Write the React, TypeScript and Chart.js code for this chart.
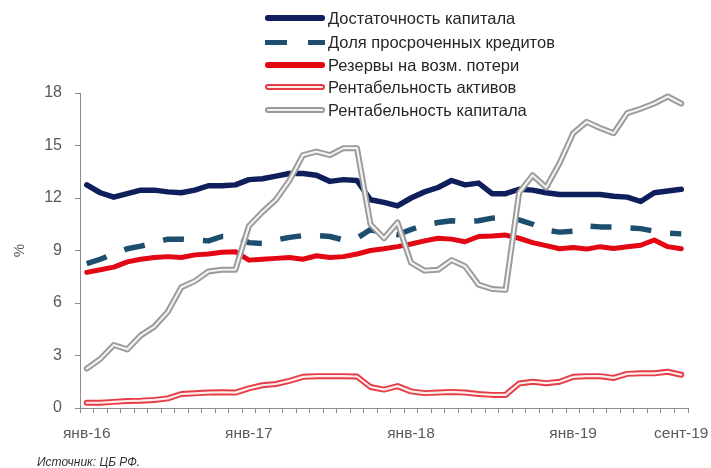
import React, { useEffect, useRef } from 'react';
import { Chart, registerables } from 'chart.js';

Chart.register(...registerables);

const categories = [
  'янв-16', 'февр-16', 'март-16', 'апр-16', 'май-16', 'июнь-16', 'июль-16', 'авг-16', 'сент-16', 'окт-16', 'нояб-16', 'дек-16',
  'янв-17', 'февр-17', 'март-17', 'апр-17', 'май-17', 'июнь-17', 'июль-17', 'авг-17', 'сент-17', 'окт-17', 'нояб-17', 'дек-17',
  'янв-18', 'февр-18', 'март-18', 'апр-18', 'май-18', 'июнь-18', 'июль-18', 'авг-18', 'сент-18', 'окт-18', 'нояб-18', 'дек-18',
  'янв-19', 'февр-19', 'март-19', 'апр-19', 'май-19', 'июнь-19', 'июль-19', 'авг-19', 'сент-19',
];

const shownTicks = ['янв-16', 'янв-17', 'янв-18', 'янв-19', 'сент-19'];

// Достаточность капитала
const capitalAdequacy = [
  12.75, 12.3, 12.05, 12.25, 12.45, 12.45, 12.35, 12.3, 12.45, 12.7,
  12.7, 12.75, 13.05, 13.1, 13.25, 13.4, 13.4, 13.3, 12.95, 13.05,
  13.0, 11.9, 11.75, 11.55, 12.0, 12.35, 12.6, 13.0, 12.75, 12.85,
  12.25, 12.25, 12.5, 12.45, 12.3, 12.2, 12.2, 12.2, 12.2, 12.1,
  12.05, 11.8, 12.3, 12.4, 12.5,
];

// Доля просроченных кредитов
const overdueShare = [
  8.25, 8.5, 8.8, 9.1, 9.25, 9.45, 9.65, 9.65, 9.6, 9.55,
  9.8, 9.8, 9.45, 9.4, 9.6, 9.75, 9.85, 9.85, 9.8, 9.6,
  9.7, 10.2, 10.0, 9.9, 10.2, 10.45, 10.6, 10.7, 10.65, 10.7,
  10.85, 10.9, 10.75, 10.5, 10.15, 10.05, 10.1, 10.4, 10.35, 10.35,
  10.3, 10.25, 10.1, 10.0, 9.95,
];

// Резервы на возм. потери
const lossReserves = [
  7.75, 7.9, 8.05, 8.35, 8.5, 8.6, 8.65, 8.6, 8.75, 8.8,
  8.9, 8.93, 8.45, 8.5, 8.55, 8.6, 8.5, 8.7, 8.6, 8.65,
  8.8, 9.0, 9.1, 9.22, 9.37, 9.55, 9.7, 9.65, 9.5, 9.8,
  9.83, 9.88, 9.7, 9.45, 9.28, 9.1, 9.17, 9.08, 9.22, 9.12,
  9.22, 9.3, 9.6, 9.22, 9.1,
];

// Рентабельность активов
const returnOnAssets = [
  0.3, 0.3, 0.35, 0.4, 0.42, 0.46, 0.55, 0.8, 0.84, 0.88,
  0.9, 0.88, 1.12, 1.3, 1.37, 1.55, 1.78, 1.82, 1.82, 1.82,
  1.8, 1.2, 1.05, 1.25, 0.95, 0.85, 0.88, 0.92, 0.88, 0.8,
  0.75, 0.75, 1.4, 1.5, 1.42, 1.5, 1.78, 1.82, 1.82, 1.72,
  1.95, 1.98, 1.98, 2.07, 1.9,
];

// Рентабельность капитала
const returnOnEquity = [
  2.25, 2.8, 3.6, 3.35, 4.15, 4.65, 5.5, 6.9, 7.25, 7.8,
  7.9, 7.9, 10.4, 11.2, 11.9, 13.0, 14.45, 14.65, 14.45, 14.85,
  14.85, 10.5, 9.7, 10.6, 8.3, 7.85, 7.9, 8.45, 8.1, 7.05,
  6.8, 6.75, 12.3, 13.3, 12.6, 14.0, 15.7, 16.35, 16.0, 15.7,
  16.85, 17.1, 17.4, 17.8, 17.4,
];

const seriesNames = [
  'Достаточность капитала',
  'Доля просроченных кредитов',
  'Резервы на возм. потери',
  'Рентабельность активов',
  'Рентабельность капитала',
];

const NAVY = '#0f1f5c';
const TEAL = '#1d4e6e';
const RED = '#e30613';
const PINK_OUT = '#e63c45';
const PINK_IN = '#fdeeee';
const GRAY_OUT = '#9a9a9a';
const GRAY_IN = '#f2f2f2';
const AXIS = '#8c8c8c';
const TICK_TEXT = '#595959';
const FONT = '"Liberation Sans", Arial, sans-serif';

export default function App() {
  const ref = useRef<HTMLCanvasElement | null>(null);

  useEffect(() => {
    if (!ref.current) return;
    const base = {
      pointRadius: 0,
      pointHoverRadius: 0,
      tension: 0,
      fill: false,
      borderJoinStyle: 'round' as const,
      borderCapStyle: 'round' as const,
    };
    const chart = new Chart(ref.current, {
      type: 'line',
      data: {
        labels: categories,
        datasets: [
          { ...base, label: seriesNames[0], data: capitalAdequacy, borderColor: NAVY, borderWidth: 5.5, order: 6 },
          { ...base, label: seriesNames[1], data: overdueShare, borderColor: TEAL, borderWidth: 5.5, borderDash: [21, 19], borderCapStyle: 'butt', order: 5 },
          { ...base, label: seriesNames[2], data: lossReserves, borderColor: RED, borderWidth: 5, order: 4 },
          { ...base, label: seriesNames[3], data: returnOnAssets, borderColor: PINK_OUT, borderWidth: 6, order: 3 },
          { ...base, label: seriesNames[3] + ' ', data: returnOnAssets, borderColor: PINK_IN, borderWidth: 2.2, order: 2 },
          { ...base, label: seriesNames[4], data: returnOnEquity, borderColor: GRAY_OUT, borderWidth: 6, order: 1 },
          { ...base, label: seriesNames[4] + ' ', data: returnOnEquity, borderColor: GRAY_IN, borderWidth: 2.2, order: 0 },
        ],
      },
      options: {
        responsive: false,
        animation: false,
        devicePixelRatio: 1,
        layout: { padding: { top: 93, right: 23, left: 0, bottom: 0 } },
        plugins: {
          legend: { display: false },
          tooltip: { enabled: false },
        },
        scales: {
          x: {
            type: 'category',
            offset: true,
            grid: {
              display: true,
              drawOnChartArea: false,
              drawTicks: true,
              tickLength: 5,
              color: AXIS,
              offset: true,
            },
            border: { display: true, color: AXIS, width: 1 },
            ticks: {
              autoSkip: false,
              maxRotation: 0,
              minRotation: 0,
              padding: 11,
              color: TICK_TEXT,
              font: { family: FONT, size: 15.5 },
              callback: (_v: any, i: number) => (shownTicks.includes(categories[i]) ? categories[i] : ''),
            },
            afterFit: (s: any) => {
              s.height = 60;
              s.paddingLeft = 0;
              s.paddingRight = 0;
            },
          },
          y: {
            min: 0,
            max: 18,
            grid: {
              display: true,
              drawOnChartArea: false,
              drawTicks: true,
              tickLength: 5,
              color: AXIS,
            },
            border: { display: true, color: AXIS, width: 1 },
            ticks: {
              stepSize: 3,
              padding: 13,
              color: TICK_TEXT,
              font: { family: FONT, size: 16 },
            },
            title: {
              display: true,
              text: '%',
              color: TICK_TEXT,
              font: { family: FONT, size: 15 },
              padding: { top: 11, bottom: 0 },
            },
            afterFit: (s: any) => {
              s.width = 80;
              s.paddingTop = 0;
              s.paddingBottom = 0;
            },
          },
        },
      },
    });
    return () => chart.destroy();
  }, []);

  const legendRows = [
    { name: seriesNames[0], kind: 'solid', color: NAVY, y: 18 },
    { name: seriesNames[1], kind: 'dash', color: TEAL, y: 42 },
    { name: seriesNames[2], kind: 'solid', color: RED, y: 65 },
    { name: seriesNames[3], kind: 'double', color: PINK_OUT, inner: PINK_IN, y: 87 },
    { name: seriesNames[4], kind: 'double', color: GRAY_OUT, inner: GRAY_IN, y: 110 },
  ];

  const swatch = (r: any) => {
    if (r.kind === 'dash') {
      return (
        <div style={{ position: 'relative', width: 60, height: 5 }}>
          <div style={{ position: 'absolute', left: 0, top: 0, width: 22, height: 5, background: r.color }} />
          <div style={{ position: 'absolute', left: 43, top: 0, width: 17, height: 5, background: r.color }} />
        </div>
      );
    }
    if (r.kind === 'double') {
      return (
        <div
          style={{
            width: 60,
            height: 6,
            boxSizing: 'border-box',
            border: `2px solid ${r.color}`,
            background: r.inner,
            borderRadius: 3,
          }}
        />
      );
    }
    return <div style={{ width: 60, height: 5.5, background: r.color, borderRadius: 2.75 }} />;
  };

  return (
    <div
      style={{
        position: 'fixed',
        left: 0,
        top: 0,
        width: 711,
        height: 468,
        background: '#ffffff',
        fontFamily: FONT,
        overflow: 'hidden',
      }}
    >
      <canvas ref={ref} width={711} height={468} style={{ position: 'absolute', left: 0, top: 0, width: 711, height: 468 }} />
      {legendRows.map((r) => (
        <div
          key={r.name}
          style={{
            position: 'absolute',
            left: 265,
            top: r.y - 10,
            height: 20,
            display: 'flex',
            alignItems: 'center',
            whiteSpace: 'nowrap',
          }}
        >
          {swatch(r)}
          <span style={{ marginLeft: 3, fontSize: 16.5, lineHeight: '20px', color: '#262626' }}>{r.name}</span>
        </div>
      ))}
      <div
        style={{
          position: 'absolute',
          left: 37,
          top: 453,
          fontSize: 12,
          lineHeight: '18px',
          fontStyle: 'italic',
          color: '#333333',
          whiteSpace: 'nowrap',
        }}
      >
        Источник: ЦБ РФ.
      </div>
    </div>
  );
}
